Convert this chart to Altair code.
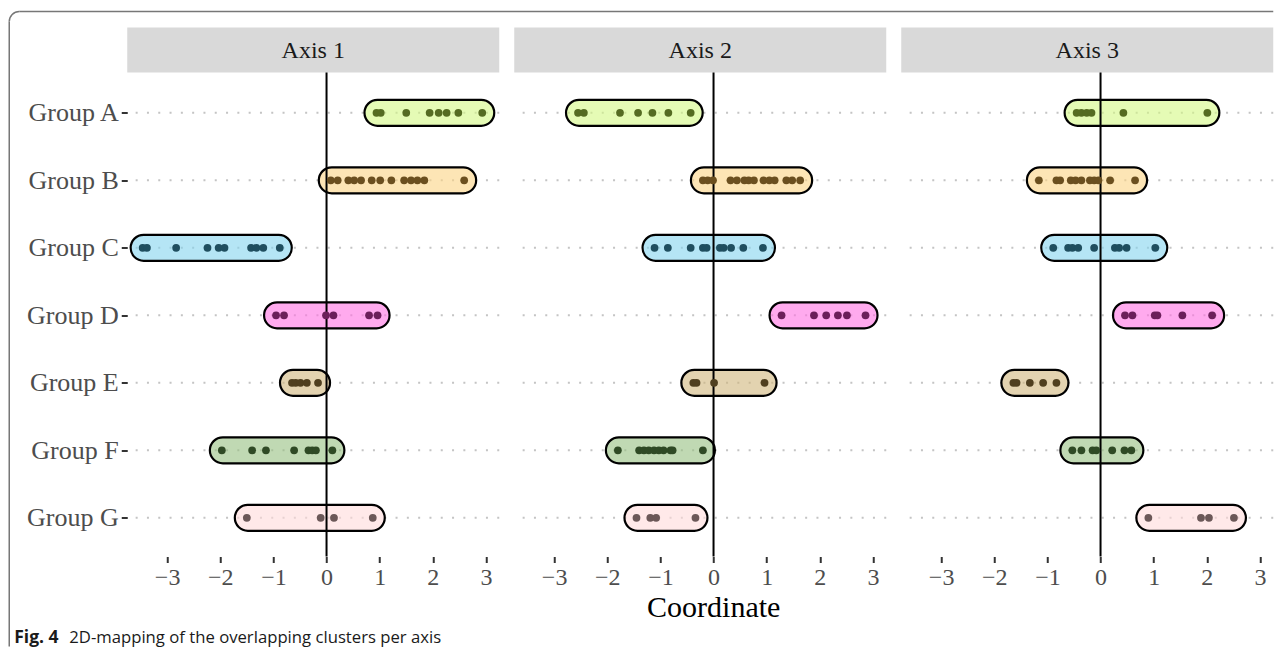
import altair as alt
import pandas as pd

SERIF = "Liberation Serif"
SANS = "Open Sans"

groups = ["Group A", "Group B", "Group C", "Group D", "Group E", "Group F", "Group G"]
panels = ["Axis 1", "Axis 2", "Axis 3"]

fill_colors = ["#d4f884", "#fcd484", "#84d4ee", "#ff71e3", "#d0b67b", "#96c080", "#ffdada"]
dot_colors = ["#556b22", "#6b4f1f", "#1f4e5f", "#6b1f5a", "#4f3f1f", "#2f4a25", "#6b5858"]

axis1 = {
    "Group A": [0.94, 1.02, 1.50, 1.94, 2.11, 2.26, 2.48, 2.93],
    "Group B": [0.08, 0.21, 0.41, 0.52, 0.65, 0.85, 1.01, 1.22, 1.46, 1.59, 1.71, 1.84, 2.59],
    "Group C": [-3.46, -3.38, -2.83, -2.24, -2.03, -1.92, -1.42, -1.32, -1.19, -0.88],
    "Group D": [-0.95, -0.80, -0.01, 0.13, 0.80, 0.96],
    "Group E": [-0.65, -0.58, -0.49, -0.37, -0.16],
    "Group F": [-1.97, -1.40, -1.14, -0.61, -0.34, -0.27, -0.20, 0.11],
    "Group G": [-1.50, -0.11, 0.14, 0.87],
}
axis2 = {
    "Group A": [-2.55, -2.44, -1.76, -1.42, -1.15, -0.85, -0.43],
    "Group B": [-0.20, -0.11, -0.01, 0.32, 0.44, 0.58, 0.66, 0.76, 0.94, 1.05, 1.15, 1.37, 1.48, 1.63],
    "Group C": [-1.11, -0.86, -0.43, -0.20, -0.13, 0.12, 0.19, 0.33, 0.56, 0.93],
    "Group D": [1.28, 1.89, 2.12, 2.34, 2.51, 2.86],
    "Group E": [-0.38, -0.32, 0.01, 0.96],
    "Group F": [-1.80, -1.40, -1.31, -1.22, -1.12, -1.03, -0.94, -0.81, -0.77, -0.20],
    "Group G": [-1.45, -1.19, -1.08, -0.34],
}
axis3 = {
    "Group A": [-0.45, -0.36, -0.26, -0.17, 0.43, 2.01],
    "Group B": [-1.16, -0.83, -0.76, -0.56, -0.47, -0.36, -0.20, -0.12, -0.04, 0.18, 0.65],
    "Group C": [-0.89, -0.61, -0.53, -0.42, -0.12, 0.27, 0.35, 0.49, 1.03],
    "Group D": [0.46, 0.60, 1.02, 1.07, 1.54, 2.10],
    "Group E": [-1.64, -1.58, -1.33, -1.08, -0.83],
    "Group F": [-0.53, -0.36, -0.15, -0.08, 0.22, 0.45, 0.58],
    "Group G": [0.90, 1.89, 2.04, 2.51],
}
all_axes = [axis1, axis2, axis3]
x_ticks = [-3, -2, -1, 0, 1, 2, 3]

W, H = 372, 529
STRIP_H = 45

xs = alt.Scale(domain=[-3.75, 3.25], nice=False, zero=False)
ys = alt.Scale(type="point", domain=groups, range=[85.3, 490.3], padding=0)
fill_scale = alt.Scale(domain=groups, range=fill_colors)
dot_scale = alt.Scale(domain=groups, range=dot_colors)


def make_panel(i):
    name = panels[i]
    data = all_axes[i]
    pts = pd.DataFrame([(g, v) for g in groups for v in data[g]], columns=["group", "value"])
    pills = pd.DataFrame([(g, min(data[g]), max(data[g])) for g in groups], columns=["group", "lo", "hi"])
    gdf = pd.DataFrame({"group": groups})

    if i == 0:
        yaxis = alt.Axis(title=None, domain=False, ticks=True, tickSize=6, tickWidth=2,
                         tickColor="#333333", labelFont=SERIF, labelFontSize=26,
                         labelColor="#4d4d4d", labelPadding=3, grid=False)
    else:
        yaxis = None
    xaxis = alt.Axis(values=x_ticks, domain=False, grid=False, tickSize=6, tickWidth=2,
                     tickColor="#333333", labelFont=SERIF, labelFontSize=24,
                     labelColor="#4d4d4d", labelPadding=3,
                     titleFont=SERIF, titleFontSize=30, titleFontWeight="normal",
                     titleColor="#000000", titlePadding=3, titleX=199)
    xtitle = "Coordinate" if i == 1 else None

    strip = alt.Chart(pd.DataFrame({"t": [name]})).mark_rect(color="#d9d9d9").encode(
        x=alt.value(0), x2=alt.value(W), y=alt.value(0), y2=alt.value(STRIP_H))
    strip_text = alt.Chart(pd.DataFrame({"t": [name]})).mark_text(
        font=SERIF, fontSize=24, color="#1a1a1a", baseline="middle", align="center").encode(
        x=alt.value(W / 2), y=alt.value(STRIP_H / 2 + 1), text="t:N")
    grid = alt.Chart(gdf).mark_rule(strokeDash=[2, 9.3], strokeWidth=2, color="#c4c4c4").encode(
        y=alt.Y("group:N", scale=ys, axis=yaxis, sort=groups))
    pill = alt.Chart(pills).mark_bar(
        cornerRadius=13, xOffset=-12, x2Offset=12, size=26, stroke="black",
        strokeWidth=2.2, fillOpacity=0.6, strokeOpacity=1).encode(
        x=alt.X("lo:Q", scale=xs, axis=xaxis, title=xtitle),
        x2="hi:Q",
        y=alt.Y("group:N", scale=ys, axis=yaxis, sort=groups),
        fill=alt.Fill("group:N", scale=fill_scale, legend=None))
    zero = alt.Chart(pd.DataFrame({"z": [0]})).mark_rule(color="black", strokeWidth=2).encode(
        x=alt.X("z:Q", scale=xs, axis=xaxis, title=xtitle),
        y=alt.value(STRIP_H), y2=alt.value(H))
    dots = alt.Chart(pts).mark_circle(size=60, opacity=1).encode(
        x=alt.X("value:Q", scale=xs, axis=xaxis, title=xtitle),
        y=alt.Y("group:N", scale=ys, axis=yaxis, sort=groups),
        color=alt.Color("group:N", scale=dot_scale, legend=None))

    layers = [strip, strip_text, grid, pill, zero, dots]

    if i == 0:
        one = pd.DataFrame({"k": [0]})
        frame_left = alt.Chart(one).mark_rule(color="#777777", strokeWidth=1.5).encode(
            x=alt.value(-118), y=alt.value(-6), y2=alt.value(619))
        frame_top = alt.Chart(one).mark_rule(color="#777777", strokeWidth=1.5).encode(
            x=alt.value(-108), x2=alt.value(1146), y=alt.value(-16))
        frame_corner = alt.Chart(one).mark_arc(
            innerRadius=9.25, outerRadius=10.75, theta=4.7124, theta2=6.2832,
            color="#777777").encode(x=alt.value(-108), y=alt.value(-6))
        cap1 = alt.Chart(pd.DataFrame({"t": ["Fig. 4"]})).mark_text(
            font=SANS, fontSize=17.5, fontWeight="bold", color="#1a1a1a",
            align="left", baseline="alphabetic").encode(
            x=alt.value(-113), y=alt.value(615.5), text="t:N")
        cap2 = alt.Chart(pd.DataFrame({"t": ["2D-mapping of the overlapping clusters per axis"]})).mark_text(
            font=SANS, fontSize=16.7, color="#1a1a1a",
            align="left", baseline="alphabetic").encode(
            x=alt.value(-58), y=alt.value(615.5), text="t:N")
        layers += [frame_left, frame_top, frame_corner, cap1, cap2]

    return alt.layer(*layers).properties(width=W, height=H)


chart = alt.hconcat(make_panel(0), make_panel(1), make_panel(2), spacing=15, bounds="flush").properties(
    padding={"left": 0.25, "top": 2.5, "right": 0, "bottom": 0}
).configure_view(strokeWidth=0)

chart.save("out.html", embed_options={"renderer": "svg", "actions": False})
